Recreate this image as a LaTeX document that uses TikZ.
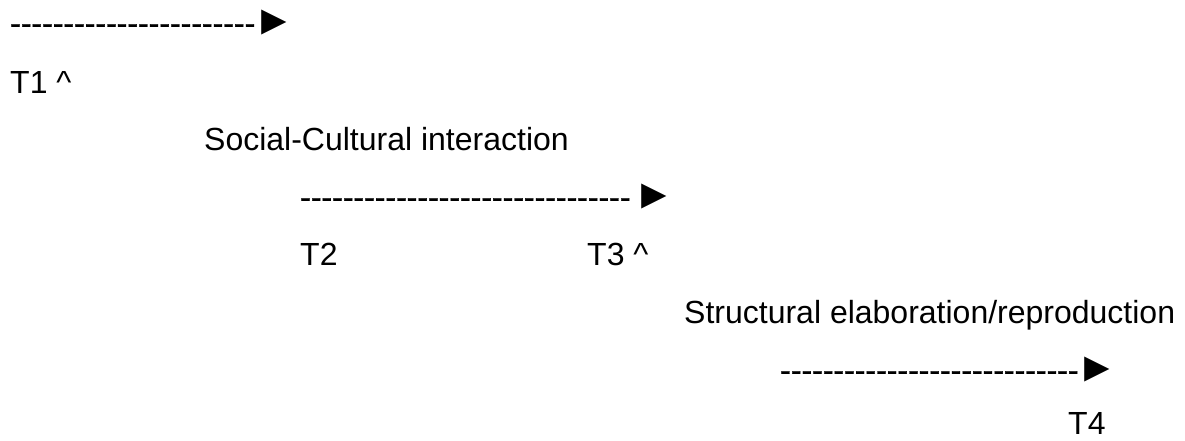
\documentclass[tikz,border=0pt]{standalone}
\usepackage{fontspec}
\newfontfamily\lsans{Liberation Sans}
\newfontfamily\lsansdash{Liberation Sans}[FakeBold=1.2]
\newcommand\hy[1]{{\lsansdash\foreach \i in {1,...,#1}{-\kern0pt}}}
\newcommand\tri{{\fontsize{42}{48}\selectfont ►}}
\tikzset{
  lbl/.style={anchor=base west, inner sep=0pt, font=\lsans\fontsize{32}{38}\selectfont, text=black},
}
\begin{document}
\begin{tikzpicture}[x=1pt,y=-1pt]
\useasboundingbox (0,0) rectangle (1185,440);
\node[lbl] (a1) at (10,34) {\hy{23}\kern-2pt\tri};
\node[lbl] (t1) at (10,93) {T1 \textasciicircum};
\node[lbl] (sc) at (204,150) {Social-Cultural interaction};
\node[lbl] (a2) at (300,208) {\hy{31}\kern3pt\tri};
\node[lbl] (t2) at (300,265) {T2};
\node[lbl] (t3) at (587,265) {T3 \textasciicircum};
\node[lbl] (se) at (684,323) {Structural elaboration/reproduction};
\node[lbl] (a3) at (780,381) {\hy{28}\kern-2pt\tri};
\node[lbl] (t4) at (1068,434) {T4};
\end{tikzpicture}
\end{document}
